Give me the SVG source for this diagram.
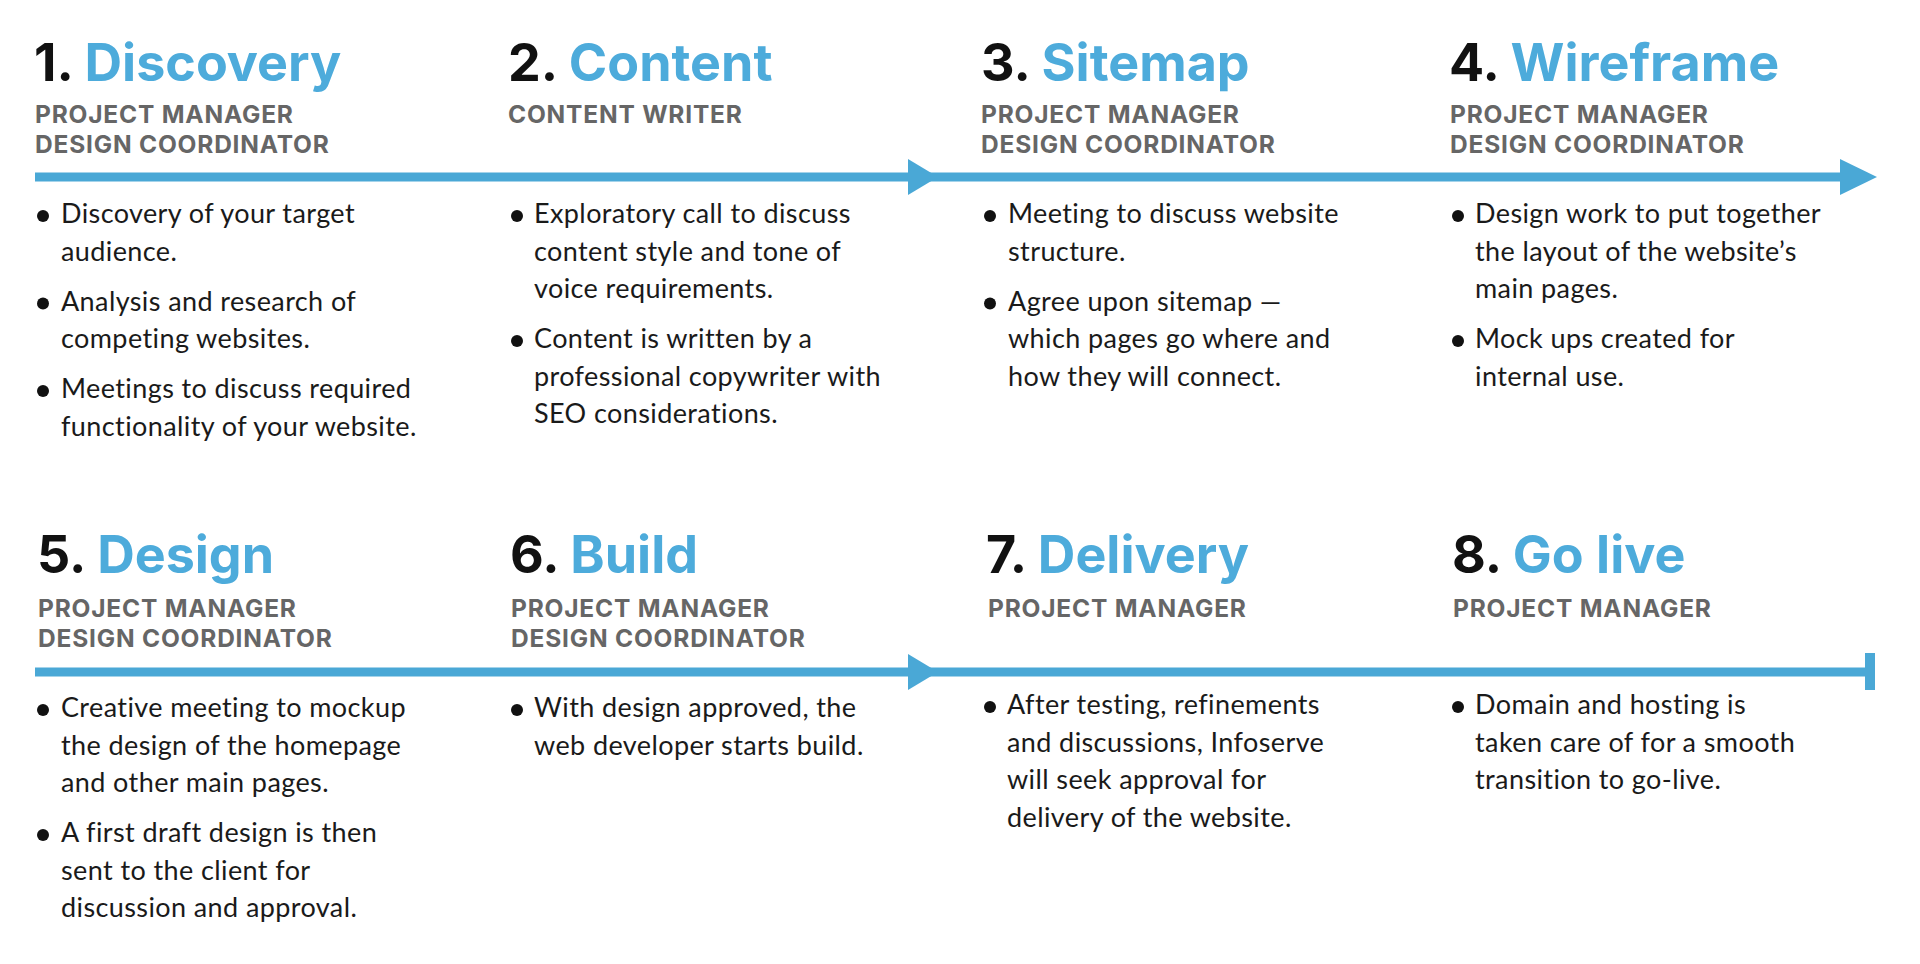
<svg xmlns="http://www.w3.org/2000/svg" width="1920" height="964" viewBox="0 0 1920 964">
<style>
.title{font-family:Inter,"Liberation Sans",sans-serif;font-weight:700;font-size:52px;fill:#111}
.title .b{fill:#4dabdb}
.role{font-family:Inter,"Liberation Sans",sans-serif;font-weight:700;font-size:24.5px;fill:#666;letter-spacing:0.8px}
.body{font-family:Lato,"Liberation Sans",sans-serif;font-size:27px;fill:#1a1a1a;letter-spacing:0.4px}
.dot{fill:#111}
.line{stroke:#4aa8d6;stroke-width:9;fill:none}
.head{fill:#4aa8d6}
</style>
<rect width="1920" height="964" fill="#fff"/>
<g id="connectors">
<path class="line" d="M35 177H1842"/>
<polygon class="head" points="908,159 938,177 908,195"/>
<polygon class="head" points="1840,159 1877,177 1840,195"/>
<path class="line" d="M35 672H1870"/>
<polygon class="head" points="908,654 938,672 908,690"/>
<rect class="head" x="1865" y="653" width="10" height="37"/>
</g>
<g id="step1">
<text class="title" x="34" y="81">1. <tspan class="b">Discovery</tspan></text>
<text class="role" x="35" y="123">PROJECT MANAGER</text>
<text class="role" x="35" y="153">DESIGN COORDINATOR</text>
<circle class="dot" cx="43" cy="216" r="6"/>
<circle class="dot" cx="43" cy="303.5" r="6"/>
<circle class="dot" cx="43" cy="391" r="6"/>
<text class="body" x="61" y="223">Discovery of your target</text>
<text class="body" x="61" y="260.5">audience.</text>
<text class="body" x="61" y="310.5">Analysis and research of</text>
<text class="body" x="61" y="348">competing websites.</text>
<text class="body" x="61" y="398">Meetings to discuss required</text>
<text class="body" x="61" y="435.5">functionality of your website.</text>
</g>
<g id="step2">
<text class="title" x="508" y="81">2. <tspan class="b">Content</tspan></text>
<text class="role" x="508" y="123">CONTENT WRITER</text>
<circle class="dot" cx="517" cy="216" r="6"/>
<circle class="dot" cx="517" cy="341" r="6"/>
<text class="body" x="534" y="223">Exploratory call to discuss</text>
<text class="body" x="534" y="260.5">content style and tone of</text>
<text class="body" x="534" y="298">voice requirements.</text>
<text class="body" x="534" y="348">Content is written by a</text>
<text class="body" x="534" y="385.5">professional copywriter with</text>
<text class="body" x="534" y="423">SEO considerations.</text>
</g>
<g id="step3">
<text class="title" x="981" y="81">3. <tspan class="b">Sitemap</tspan></text>
<text class="role" x="981" y="123">PROJECT MANAGER</text>
<text class="role" x="981" y="153">DESIGN COORDINATOR</text>
<circle class="dot" cx="990" cy="216" r="6"/>
<circle class="dot" cx="990" cy="303.5" r="6"/>
<text class="body" x="1008" y="223">Meeting to discuss website</text>
<text class="body" x="1008" y="260.5">structure.</text>
<text class="body" x="1008" y="310.5">Agree upon sitemap —</text>
<text class="body" x="1008" y="348">which pages go where and</text>
<text class="body" x="1008" y="385.5">how they will connect.</text>
</g>
<g id="step4">
<text class="title" x="1449" y="81">4. <tspan class="b">Wireframe</tspan></text>
<text class="role" x="1450" y="123">PROJECT MANAGER</text>
<text class="role" x="1450" y="153">DESIGN COORDINATOR</text>
<circle class="dot" cx="1458" cy="216" r="6"/>
<circle class="dot" cx="1458" cy="341" r="6"/>
<text class="body" x="1475" y="223">Design work to put together</text>
<text class="body" x="1475" y="260.5">the layout of the website’s</text>
<text class="body" x="1475" y="298">main pages.</text>
<text class="body" x="1475" y="348">Mock ups created for</text>
<text class="body" x="1475" y="385.5">internal use.</text>
</g>
<g id="step5">
<text class="title" x="37" y="573">5. <tspan class="b">Design</tspan></text>
<text class="role" x="38" y="617">PROJECT MANAGER</text>
<text class="role" x="38" y="647">DESIGN COORDINATOR</text>
<circle class="dot" cx="43" cy="710" r="6"/>
<circle class="dot" cx="43" cy="835" r="6"/>
<text class="body" x="61" y="717">Creative meeting to mockup</text>
<text class="body" x="61" y="754.5">the design of the homepage</text>
<text class="body" x="61" y="792">and other main pages.</text>
<text class="body" x="61" y="842">A first draft design is then</text>
<text class="body" x="61" y="879.5">sent to the client for</text>
<text class="body" x="61" y="917">discussion and approval.</text>
</g>
<g id="step6">
<text class="title" x="510" y="573">6. <tspan class="b">Build</tspan></text>
<text class="role" x="511" y="617">PROJECT MANAGER</text>
<text class="role" x="511" y="647">DESIGN COORDINATOR</text>
<circle class="dot" cx="517" cy="710" r="6"/>
<text class="body" x="534" y="717">With design approved, the</text>
<text class="body" x="534" y="754.5">web developer starts build.</text>
</g>
<g id="step7">
<text class="title" x="986" y="573">7. <tspan class="b">Delivery</tspan></text>
<text class="role" x="988" y="617">PROJECT MANAGER</text>
<circle class="dot" cx="990" cy="707" r="6"/>
<text class="body" x="1007" y="714">After testing, refinements</text>
<text class="body" x="1007" y="751.5">and discussions, Infoserve</text>
<text class="body" x="1007" y="789">will seek approval for</text>
<text class="body" x="1007" y="826.5">delivery of the website.</text>
</g>
<g id="step8">
<text class="title" x="1452" y="573">8. <tspan class="b">Go live</tspan></text>
<text class="role" x="1453" y="617">PROJECT MANAGER</text>
<circle class="dot" cx="1458" cy="707" r="6"/>
<text class="body" x="1475" y="714">Domain and hosting is</text>
<text class="body" x="1475" y="751.5">taken care of for a smooth</text>
<text class="body" x="1475" y="789">transition to go-live.</text>
</g>
</svg>
